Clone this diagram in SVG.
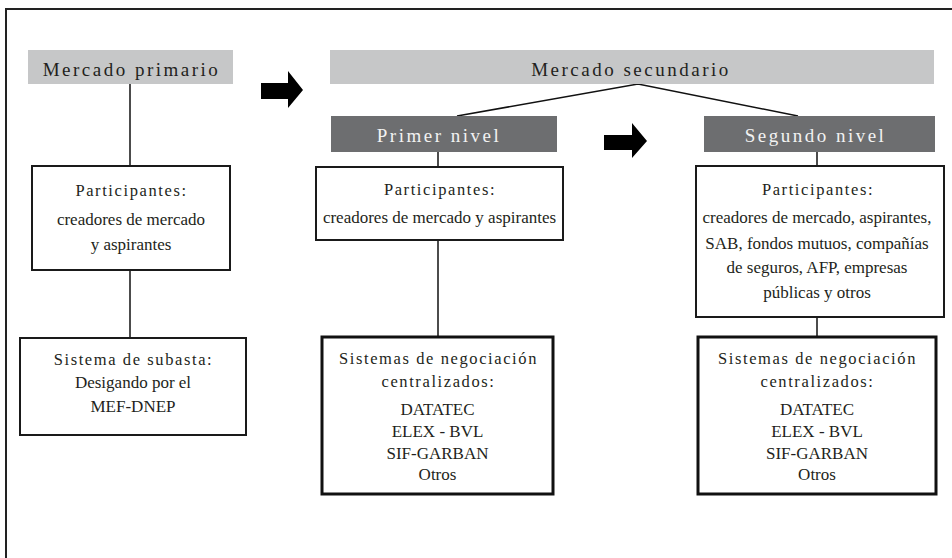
<svg xmlns="http://www.w3.org/2000/svg" width="952" height="558" viewBox="0 0 952 558">
<style>
text{font-family:"Liberation Serif","Times New Roman",serif;fill:#231f20;text-anchor:middle}
.hd{font-size:19px;letter-spacing:2.5px}
.sp{font-size:16.5px;letter-spacing:1.6px}
.b{font-size:17px}
.lt{fill:#c6c7c8}
.dk{fill:#6d6e70}
.wt{fill:#f2f2f2}
.box{fill:#fff;stroke:#1a1a1a;stroke-width:2}
.box2{fill:#fff;stroke:#111;stroke-width:3}
.ln{stroke:#111;stroke-width:1.5;fill:none}
.arr{fill:#000}
</style>
<rect width="952" height="558" fill="#fff"/>
<path d="M6,560 V9 H960" fill="none" stroke="#222" stroke-width="2"/>
<g id="connectors">
<line class="ln" x1="130" y1="84" x2="130" y2="166"/>
<line class="ln" x1="130" y1="270" x2="130" y2="338"/>
<polyline class="ln" points="457,116 638,84 798,116"/>
<line class="ln" x1="438" y1="152" x2="438" y2="167"/>
<line class="ln" x1="438" y1="240" x2="438" y2="337"/>
<line class="ln" x1="817" y1="152" x2="817" y2="166"/>
<line class="ln" x1="817" y1="317" x2="817" y2="337"/>
</g>
<g id="arrow1"><polygon class="arr" points="261,83 288,83 288,71 303,90 288,108 288,99 261,99"/></g>
<g id="arrow2"><polygon class="arr" points="604,135 632,135 632,123 647,141 632,158 632,150 604,150"/></g>
<g id="mercado-primario">
<rect class="lt" x="28" y="50" width="205" height="34"/>
<text class="hd" x="131.5" y="76">Mercado primario</text>
</g>
<g id="mercado-secundario">
<rect class="lt" x="330" y="50" width="604" height="34"/>
<text class="hd" x="631" y="76">Mercado secundario</text>
</g>
<g id="primer-nivel">
<rect class="dk" x="331" y="116" width="226" height="36"/>
<text class="hd wt" x="439" y="142">Primer nivel</text>
</g>
<g id="segundo-nivel">
<rect class="dk" x="704" y="116" width="231" height="36"/>
<text class="hd wt" x="815.5" y="142">Segundo nivel</text>
</g>
<g id="participantes-primario">
<rect class="box" x="32" y="166" width="198" height="104"/>
<text class="sp" x="131.5" y="196">Participantes:</text>
<text class="b" x="131" y="225">creadores de mercado</text>
<text class="b" x="131" y="250">y aspirantes</text>
</g>
<g id="sistema-subasta">
<rect class="box" x="20" y="338" width="226" height="97"/>
<text class="sp" x="133.5" y="365">Sistema de subasta:</text>
<text class="b" x="133" y="388">Desigando por el</text>
<text class="b" x="133" y="412">MEF-DNEP</text>
</g>
<g id="participantes-primer">
<rect class="box" x="316" y="167" width="247" height="73"/>
<text class="sp" x="440" y="195">Participantes:</text>
<text class="b" x="439.5" y="223">creadores de mercado y aspirantes</text>
</g>
<g id="sistemas-primer">
<rect class="box2" x="322" y="337" width="231" height="157"/>
<text class="sp" x="438.5" y="364">Sistemas de negociación</text>
<text class="sp" x="438.5" y="387">centralizados:</text>
<text class="b" x="437.5" y="415">DATATEC</text>
<text class="b" x="437.5" y="437">ELEX - BVL</text>
<text class="b" x="437.5" y="459">SIF-GARBAN</text>
<text class="b" x="437.5" y="480">Otros</text>
</g>
<g id="participantes-segundo">
<rect class="box" x="696" y="166" width="248" height="151"/>
<text class="sp" x="818" y="195">Participantes:</text>
<text class="b" x="817" y="223">creadores de mercado, aspirantes,</text>
<text class="b" x="817" y="249">SAB, fondos mutuos, compañías</text>
<text class="b" x="817" y="273">de seguros, AFP, empresas</text>
<text class="b" x="817" y="298">públicas y otros</text>
</g>
<g id="sistemas-segundo">
<rect class="box2" x="698" y="337" width="238" height="157"/>
<text class="sp" x="817.5" y="364">Sistemas de negociación</text>
<text class="sp" x="817.5" y="387">centralizados:</text>
<text class="b" x="817" y="415">DATATEC</text>
<text class="b" x="817" y="437">ELEX - BVL</text>
<text class="b" x="817" y="459">SIF-GARBAN</text>
<text class="b" x="817" y="480">Otros</text>
</g>
</svg>
